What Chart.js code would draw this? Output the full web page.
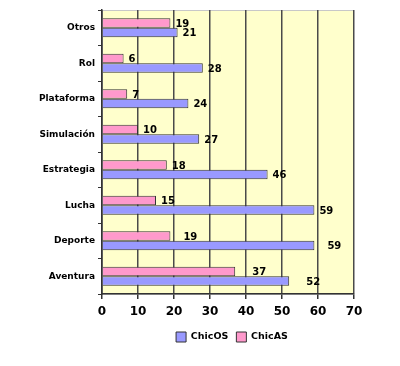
<!DOCTYPE html>
<html>
<head>
<meta charset="utf-8">
<script src="https://cdn.jsdelivr.net/npm/chart.js@4/dist/chart.umd.min.js"></script>
<style>
  html, body { margin: 0; padding: 0; background: #fff; }
  .canvas-container { width: 400px; height: 366px; }
</style>
</head>
<body>
<div class="canvas-container">
  <canvas id="chart" width="400" height="366"></canvas>
</div>
<script>
const categories = ["Otros", "Rol", "Plataforma", "Simulación", "Estrategia", "Lucha", "Deporte", "Aventura"];
const chicas = [19, 6, 7, 10, 18, 15, 19, 37];
const chicos = [21, 28, 24, 27, 46, 59, 59, 52];
const xTicks = [0, 10, 20, 30, 40, 50, 60, 70];

// gap between bar end and its value label, per category (the original has uneven gaps)
const labelGap = [5, 5, 5, 5, 5, 5, 13, 17];

const FONT = "'DejaVu Sans', Verdana, sans-serif";

const plotBackground = {
  id: "plotBackground",
  beforeDraw(chart) {
    const { ctx, chartArea: a } = chart;
    ctx.save();
    ctx.fillStyle = "#FFFFCC";
    ctx.fillRect(a.left, a.top, a.right - a.left, a.bottom - a.top);
    ctx.strokeStyle = "#c8c8c8";
    ctx.lineWidth = 1;
    ctx.strokeRect(a.left + 0.5, a.top + 0.5, a.right - a.left - 1, a.bottom - a.top);
    ctx.restore();
  },
};

// the legend sits under the plot area's centre, not the canvas centre
const legendShift = {
  id: "legendShift",
  afterLayout(chart) {
    if (chart.legend) {
      chart.legend.left += 55;
      chart.legend.right += 55;
    }
  },
};

const valueLabels = {
  id: "valueLabels",
  afterDatasetsDraw(chart) {
    const { ctx } = chart;
    ctx.save();
    ctx.font = "bold 10px " + FONT;
    ctx.fillStyle = "#000";
    ctx.textBaseline = "middle";
    ctx.textAlign = "left";
    chart.data.datasets.forEach((ds, di) => {
      chart.getDatasetMeta(di).data.forEach((bar, i) => {
        ctx.fillText(String(ds.data[i]), bar.x + labelGap[i], bar.y + 1);
      });
    });
    ctx.restore();
  },
};

new Chart(document.getElementById("chart").getContext("2d"), {
  type: "bar",
  data: {
    labels: categories,
    datasets: [
      {
        label: "ChicAS",
        data: chicas,
        backgroundColor: "#FF99CC",
        borderColor: "#333333",
        borderWidth: 1,
        barPercentage: 1,
        categoryPercentage: 0.54,
      },
      {
        label: "ChicOS",
        data: chicos,
        backgroundColor: "#9999FF",
        borderColor: "#333333",
        borderWidth: 1,
        barPercentage: 1,
        categoryPercentage: 0.54,
      },
    ],
  },
  options: {
    indexAxis: "y",
    responsive: false,
    animation: false,
    layout: { padding: { top: 10, right: 46, left: 0, bottom: 14 } },
    scales: {
      x: {
        min: 0,
        max: 70,
        afterBuildTicks(scale) {
          scale.ticks = xTicks.map((v) => ({ value: v }));
        },
        afterFit(scale) { scale.height = 30; },
        grid: { color: "#4a4a4a", lineWidth: 1.5, tickLength: 5, tickColor: "#333" },
        border: { color: "#333", width: 1.5 },
        ticks: { color: "#000", font: { family: FONT, size: 12, weight: "bold" }, padding: 6 },
      },
      y: {
        afterFit(scale) { scale.width = 102; },
        grid: { drawOnChartArea: false, drawTicks: true, tickLength: 4, color: "#333", offset: true },
        border: { color: "#333", width: 1.5 },
        ticks: { color: "#000", font: { family: FONT, size: 9, weight: "bold" }, padding: 3 },
      },
    },
    plugins: {
      tooltip: { enabled: false },
      legend: {
        position: "bottom",
        labels: {
          boxWidth: 10,
          boxHeight: 10,
          padding: 8,
          color: "#000",
          font: { family: FONT, size: 9.5, weight: "bold" },
          sort: (a, b) => b.datasetIndex - a.datasetIndex,
        },
      },
    },
  },
  plugins: [plotBackground, legendShift, valueLabels],
});
</script>
</body>
</html>
